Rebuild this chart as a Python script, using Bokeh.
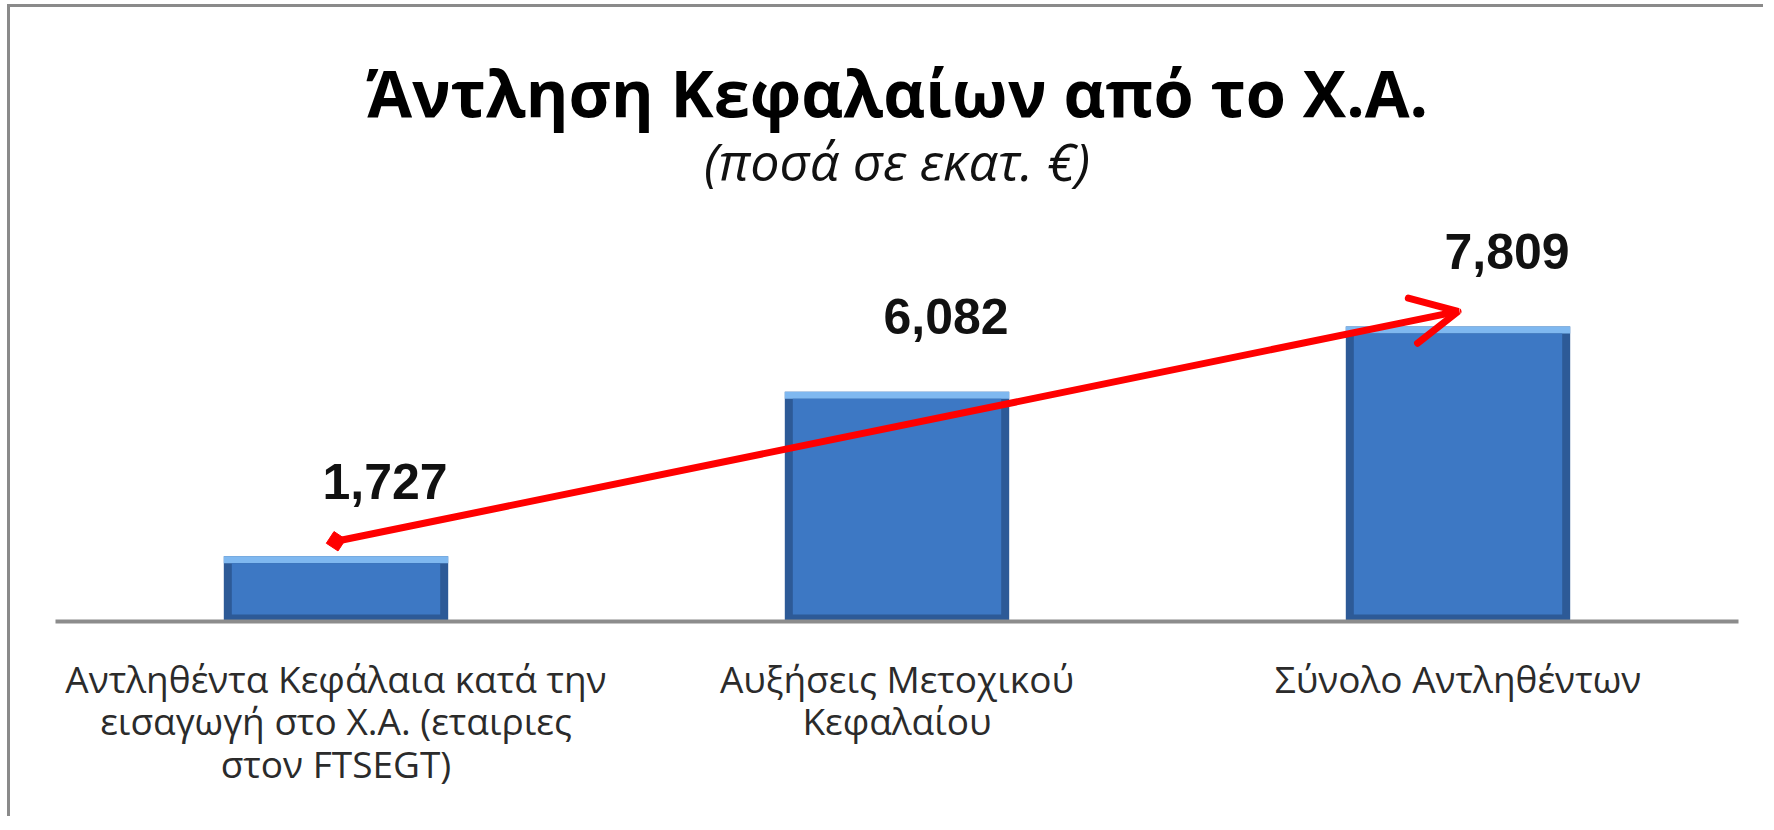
from bokeh.plotting import figure
from bokeh.models import ColumnDataSource, FactorRange, Range1d, Label, Arrow, OpenHead
from bokeh.core.properties import value
from bokeh.embed import file_html
from bokeh.resources import INLINE

# ---- data ----
categories = [
    "Αντληθέντα Κεφάλαια κατά την\nεισαγωγή στο Χ.Α. (εταιριες\nστον FTSEGT)",
    "Αυξήσεις Μετοχικού\nΚεφαλαίου",
    "Σύνολο Αντληθέντων",
]
amounts = [1727, 6082, 7809]
value_labels = [f"{a:,}" for a in amounts]
title_text = "Άντληση Κεφαλαίων από το Χ.Α."
subtitle_text = "(ποσά σε εκατ. €)"

# ---- geometry ----
W, H = 1756, 812
MB_L, MB_R, MB_B = 45, 28, 198
FRAME_H = H - MB_B
FRAME_W = W - MB_L - MB_R
Y_END = 16250
upp = Y_END / FRAME_H                # data units per pixel
cat_px = FRAME_W / len(categories)   # pixels per category
bev = 7 * upp
bev_w = 8 / cat_px
lift = 15 * upp

p = figure(
    x_range=FactorRange(factors=categories),
    y_range=Range1d(0, Y_END),
    width=W, height=H,
    output_backend="svg", toolbar_location=None,
    min_border_left=MB_L, min_border_right=MB_R,
    min_border_top=0, min_border_bottom=MB_B,
    outline_line_color=None,
    background_fill_color="white", border_fill_color="white",
    styles={"border-left": "3px solid #8a8a8a", "border-top": "3px solid #8a8a8a",
            "margin-left": "7px", "margin-top": "4px"},
)
p.yaxis.visible = False
p.xgrid.grid_line_color = None
p.ygrid.grid_line_color = None

ax = p.xaxis[0]
ax.axis_line_color = "#8c8c8c"
ax.axis_line_width = 4
ax.major_tick_line_color = None
ax.minor_tick_line_color = None
ax.major_tick_out = 0
ax.major_label_standoff = 31
ax.major_label_text_font = "Open Sans"
ax.major_label_text_font_size = "37px"
ax.major_label_text_color = "#2b2b2b"
ax.major_label_text_line_height = 0.84

src = ColumnDataSource(dict(
    cat=categories,
    v=amounts,
    v_in=[a - bev for a in amounts],
    label=value_labels,
))

# bars with a simple bevel look
p.vbar(x="cat", top="v", bottom=0, width=0.4, source=src,
       fill_color="#2d5a97", line_color=None)
p.vbar(x="cat", top="v", bottom="v_in", width=0.4, source=src,
       fill_color="#7fb8f0", line_color=None)
p.vbar(x="cat", top="v_in", bottom=bev, width=0.4 - 2 * bev_w, source=src,
       fill_color="#3d78c4", line_color=None)

# value labels
p.text(x="cat", y="v", text="label", source=src,
       x_offset=49, y_offset=-75,
       text_align="center", text_baseline="alphabetic",
       text_font=value("Liberation Sans"), text_font_style="bold",
       text_font_size="50px", text_color="#111111")

# red arrow from first to last bar
asrc = ColumnDataSource(dict(
    x0=[categories[0]], y0=[amounts[0] + lift],
    x1=[categories[-1]], y1=[amounts[-1] + lift],
))
p.add_layout(Arrow(
    source=asrc, x_start="x0", y_start="y0", x_end="x1", y_end="y1",
    line_color="#ff0000", line_width=7, line_cap="round",
    end=OpenHead(size=46, line_color="#ff0000", line_width=7, line_cap="round"),
))
p.scatter(x="x0", y="y0", source=asrc, marker="square", size=14, angle=0.99,
          fill_color="#ff0000", line_color="#ff0000")

# titles
p.add_layout(Label(
    x=FRAME_W / 2, y=FRAME_H - 84, x_units="screen", y_units="screen",
    text=title_text, text_align="center", text_baseline="alphabetic",
    text_font="Open Sans", text_font_style="bold", text_font_size="65px",
    text_color="#000000",
))
p.add_layout(Label(
    x=FRAME_W / 2, y=FRAME_H - 153, x_units="screen", y_units="screen",
    text=subtitle_text, text_align="center", text_baseline="alphabetic",
    text_font="Open Sans", text_font_style="italic", text_font_size="52px",
    text_color="#111111",
))

open("out.html", "w").write(file_html(p, INLINE))
